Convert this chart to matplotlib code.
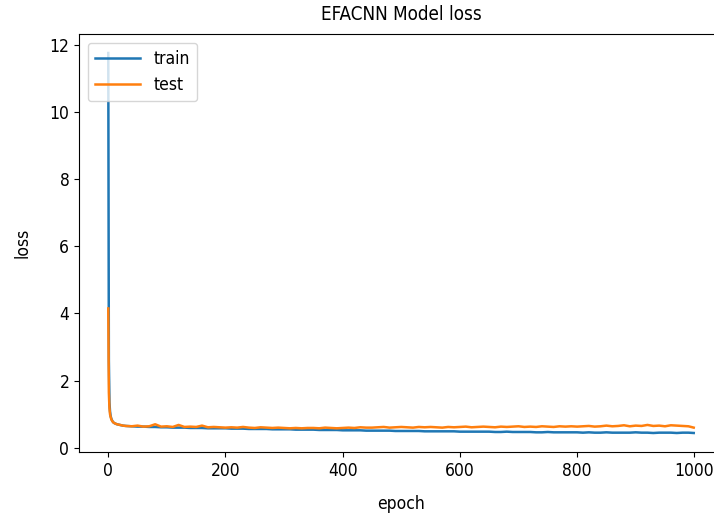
import matplotlib.pyplot as plt

plt.rcParams['font.family'] = ['DejaVu Sans']
plt.rcParams['font.stretch'] = 'condensed'

epochs = list(range(0, 10)) + [12, 15, 20, 25] + list(range(30, 1000, 10)) + [999]

train_loss = [
    11.76, 2.60, 1.35, 1.08, 0.95, 0.88, 0.83, 0.80, 0.77, 0.75,
    0.72, 0.70, 0.68, 0.66,
    # 30 .. 990
    0.65, 0.64, 0.63, 0.63, 0.62, 0.62, 0.61, 0.61,
    0.60, 0.60, 0.60, 0.59, 0.59, 0.59, 0.58, 0.58, 0.58, 0.58,
    0.57, 0.57, 0.57, 0.56, 0.56, 0.56, 0.56, 0.55, 0.55, 0.55,
    0.55, 0.54, 0.54, 0.54, 0.54, 0.53, 0.53, 0.53, 0.53, 0.52,
    0.52, 0.52, 0.52, 0.51, 0.51, 0.51, 0.51, 0.51, 0.50, 0.50,
    0.50, 0.50, 0.50, 0.49, 0.49, 0.49, 0.49, 0.49, 0.49, 0.48,
    0.48, 0.48, 0.48, 0.48, 0.48, 0.47, 0.47, 0.48, 0.47, 0.47,
    0.47, 0.47, 0.46, 0.46, 0.47, 0.46, 0.46, 0.46, 0.46, 0.46,
    0.45, 0.46, 0.45, 0.45, 0.46, 0.45, 0.45, 0.45, 0.45, 0.46,
    0.45, 0.45, 0.44, 0.45, 0.45, 0.45, 0.44, 0.45, 0.45,
    0.44,
]

test_loss = [
    4.15, 1.65, 1.18, 1.00, 0.92, 0.86, 0.82, 0.79, 0.77, 0.75,
    0.72, 0.70, 0.68, 0.66,
    # 30 .. 990
    0.65, 0.64, 0.66, 0.63, 0.64, 0.70, 0.63, 0.64,
    0.62, 0.68, 0.62, 0.63, 0.62, 0.66, 0.61, 0.62, 0.61, 0.60,
    0.61, 0.60, 0.62, 0.60, 0.59, 0.61, 0.60, 0.59, 0.60, 0.59,
    0.58, 0.59, 0.58, 0.59, 0.59, 0.58, 0.60, 0.59, 0.58, 0.59,
    0.60, 0.59, 0.61, 0.60, 0.60, 0.61, 0.62, 0.60, 0.61, 0.62,
    0.61, 0.60, 0.62, 0.61, 0.62, 0.61, 0.60, 0.62, 0.61, 0.62,
    0.63, 0.61, 0.62, 0.63, 0.62, 0.61, 0.63, 0.62, 0.63, 0.64,
    0.62, 0.63, 0.62, 0.64, 0.63, 0.62, 0.64, 0.63, 0.64, 0.63,
    0.64, 0.65, 0.63, 0.64, 0.66, 0.64, 0.65, 0.67, 0.64, 0.66,
    0.65, 0.68, 0.65, 0.66, 0.64, 0.67, 0.66, 0.65, 0.64,
    0.60,
]

fig = plt.figure(figsize=(7.14, 5.19), dpi=100)
ax = fig.add_axes([79 / 714, 67 / 519, 644 / 714, 418 / 519])

ax.plot(epochs, train_loss, label='train', linewidth=1.8)
ax.plot(epochs, test_loss, label='test', linewidth=1.8)

ax.set_title('EFACNN Model loss', fontsize=13.5, pad=10)
ax.set_xlabel('epoch', fontsize=12.5, labelpad=11)
ax.set_ylabel('loss', fontsize=12.5, labelpad=13)
ax.tick_params(labelsize=12.5)
ax.legend(['train', 'test'], loc='upper left', fontsize=12.5, handlelength=2.6)

fig.savefig('out.png', dpi=100)
